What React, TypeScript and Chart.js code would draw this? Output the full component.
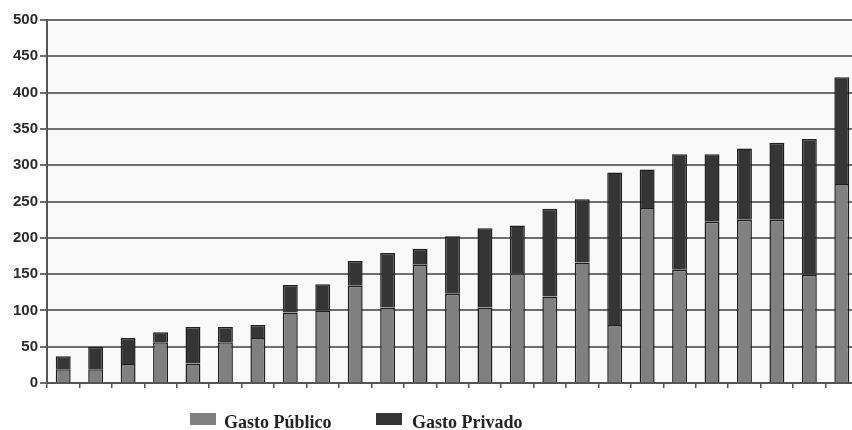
import React, { useEffect, useRef } from "react";
import { Chart, registerables } from "chart.js";

Chart.register(...registerables);

// Spending per category (stacked): public part and private part
const categories = [
  "1", "2", "3", "4", "5", "6", "7", "8", "9", "10",
  "11", "12", "13", "14", "15", "16", "17", "18", "19", "20",
  "21", "22", "23", "24", "25",
];
const gastoPublico = [
  19, 19, 26, 56, 27, 56, 62, 97, 100, 134,
  104, 163, 123, 104, 151, 119, 166, 80, 241, 156,
  222, 225, 225, 149, 274,
];
const gastoPrivado = [
  18, 31, 36, 14, 50, 21, 18, 38, 36, 34,
  75, 22, 79, 109, 66, 121, 87, 210, 53, 159,
  93, 98, 106, 187, 147,
];
const seriesLabels = ["Gasto Público", "Gasto Privado"];
const yMax = 500;
const yStep = 50;

const PUBLIC_COLOR = "#808080";
const PRIVATE_COLOR = "#353535";

// Light panel behind the plotting area
const plotBackground = {
  id: "plotBackground",
  beforeDraw(chart: any) {
    const { ctx, chartArea } = chart;
    ctx.save();
    ctx.fillStyle = "#f9f9f9";
    ctx.fillRect(chartArea.left, chartArea.top, chartArea.right - chartArea.left, chartArea.bottom - chartArea.top);
    ctx.restore();
  },
};

// Legend row under the axis, drawn from the dataset labels/colours
const bottomLegend = {
  id: "bottomLegend",
  afterDraw(chart: any) {
    const { ctx } = chart;
    const items = [
      { x: 190, textX: 224 },
      { x: 376, textX: 412 },
    ];
    ctx.save();
    ctx.font = "bold 18px 'Liberation Serif', 'Times New Roman', serif";
    ctx.textBaseline = "alphabetic";
    chart.data.datasets.forEach((ds: any, i: number) => {
      const it = items[i];
      ctx.fillStyle = ds.backgroundColor;
      ctx.fillRect(it.x, 413, 26, 12);
      ctx.fillStyle = "#222";
      ctx.fillText(ds.label, it.textX, 428);
    });
    ctx.restore();
  },
};

export default function App() {
  const canvasRef = useRef<HTMLCanvasElement | null>(null);

  useEffect(() => {
    if (!canvasRef.current) return;
    const chart = new Chart(canvasRef.current, {
      type: "bar",
      data: {
        labels: categories,
        datasets: [
          {
            label: seriesLabels[0],
            data: gastoPublico,
            backgroundColor: PUBLIC_COLOR,
            borderColor: "#1e1e1e",
            borderWidth: 1.5,
            barPercentage: 0.46,
            categoryPercentage: 1,
          },
          {
            label: seriesLabels[1],
            data: gastoPrivado,
            backgroundColor: PRIVATE_COLOR,
            borderColor: "#1e1e1e",
            borderWidth: 1.5,
            barPercentage: 0.46,
            categoryPercentage: 1,
          },
        ],
      },
      options: {
        responsive: false,
        animation: false,
        layout: { padding: { top: 20, right: 4, left: 0, bottom: 0 } },
        plugins: {
          legend: { display: false },
          tooltip: { enabled: false },
        },
        scales: {
          x: {
            stacked: true,
            offset: true,
            afterFit(scale: any) {
              scale.height = 47;
            },
            grid: {
              offset: true,
              drawOnChartArea: false,
              drawTicks: true,
              tickLength: 5,
              color: "#555",
              lineWidth: 1.5,
            },
            border: { display: true, color: "#555", width: 2 },
            ticks: { display: false },
          },
          y: {
            stacked: true,
            min: 0,
            max: yMax,
            afterFit(scale: any) {
              scale.width = 47;
            },
            ticks: {
              stepSize: yStep,
              padding: 2,
              color: "#2a2a2a",
              font: { family: "'Liberation Sans', Arial, sans-serif", size: 15, weight: "bold" },
            },
            grid: {
              color: "#6e6e6e",
              lineWidth: 2,
              tickLength: 7,
            },
            border: { display: true, color: "#555", width: 2 },
          },
        },
      },
      plugins: [plotBackground, bottomLegend],
    });
    return () => chart.destroy();
  }, []);

  return (
    <div
      style={{
        position: "fixed",
        left: 0,
        top: 0,
        width: 852,
        height: 430,
        overflow: "hidden",
        background: "#fff",
      }}
    >
      <canvas ref={canvasRef} width={862} height={430} style={{ width: 862, height: 430, display: "block" }} />
    </div>
  );
}
